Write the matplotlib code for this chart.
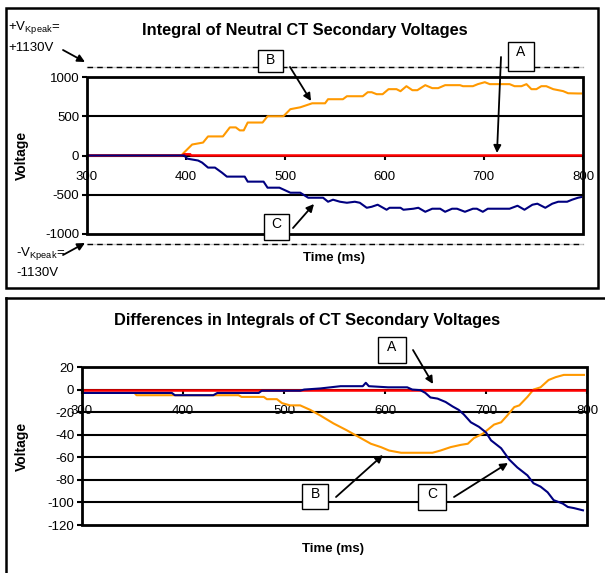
import matplotlib
matplotlib.use("Agg")
import matplotlib.pyplot as plt
from matplotlib.patches import Rectangle, FancyArrowPatch
from matplotlib.lines import Line2D

plt.rcParams['font.family'] = ['Liberation Sans', 'DejaVu Sans']
plt.rcParams['mathtext.fontset'] = 'custom'
plt.rcParams['mathtext.rm'] = 'Liberation Sans'
plt.rcParams['axes.unicode_minus'] = False

W, H = 605, 573

# ---- top chart: integral of neutral CT secondary voltages ----
top_orange_t = [300, 395, 398, 406, 417, 422, 437, 444, 450, 454, 458, 462, 477, 482, 498, 505,
                515, 527, 540, 543, 558, 562, 578, 583, 587, 592, 598, 604, 612, 616, 622, 628,
                633, 641, 648, 654, 661, 676, 679, 689, 694, 701, 706, 713, 726, 731, 738, 743,
                748, 753, 758, 763, 770, 780, 785, 795, 798]
top_orange_v = [0, 0, 40, 140, 165, 243, 243, 358, 358, 320, 320, 420, 420, 500, 500, 590,
                614, 665, 665, 717, 717, 755, 755, 806, 806, 781, 781, 845, 845, 819, 883, 832,
                832, 896, 858, 858, 896, 896, 883, 883, 909, 934, 909, 909, 909, 883, 883, 909,
                845, 845, 883, 883, 845, 820, 793, 790, 790]

top_blue_t = [300, 398, 401, 412, 416, 422, 429, 436, 441, 459, 462, 478, 482, 494, 505, 515,
              523, 538, 543, 548, 555, 562, 570, 575, 582, 587, 593, 602, 605, 616, 619, 629,
              634, 641, 648, 656, 661, 668, 673, 681, 689, 693, 699, 704, 716, 726, 734, 741,
              749, 754, 762, 769, 775, 784, 789, 795, 798]
top_blue_v = [0, 0, -40, -64, -90, -154, -154, -218, -269, -269, -333, -333, -410, -410, -474, -474,
              -538, -538, -589, -563, -589, -602, -589, -602, -666, -653, -627, -691, -666, -666, -691, -678,
              -666, -717, -678, -678, -717, -678, -678, -717, -678, -678, -717, -678, -678, -678, -640, -691,
              -627, -614, -666, -614, -589, -589, -563, -538, -530]

top_red_t = [300, 396, 398, 404, 405, 798]
top_red_v = [0, 0, 15, 15, 0, 0]

vkpeak = 1130
top_yticks = [-1000, -500, 0, 500, 1000]
top_grid = [-500, 500]

# ---- bottom chart: differences in integrals ----
bot_orange_t = [300, 352, 354, 455, 458, 480, 483, 493, 498, 506, 516, 526, 536, 549, 562, 574,
                586, 596, 604, 616, 647, 655, 665, 675, 682, 688, 697, 708, 715, 721, 728, 733,
                741, 747, 754, 762, 769, 777, 797]
bot_orange_v = [-3, -3, -5, -5, -6.5, -6.5, -8.5, -8.5, -12, -14, -14, -18, -23, -30, -36, -42,
                -48, -51, -54, -56, -56, -54, -51, -49, -48, -43, -39, -31, -29, -23, -15.5, -14,
                -6.5, 0, 2, 8.5, 11, 13, 13]

bot_blue_t = [300, 389, 392, 430, 434, 475, 478, 516, 520, 536, 556, 578, 581, 584, 603, 622,
              627, 635, 640, 645, 652, 660, 667, 673, 678, 685, 693, 700, 705, 715, 723, 731,
              741, 747, 754, 761, 767, 776, 781, 787, 796]
bot_blue_v = [-3, -3, -5, -5, -3, -3, -1, -1, 0, 1, 3, 3, 6, 3, 2, 2,
              0, -0.5, -3, -7, -8, -11, -15, -18, -22, -29, -33, -38, -45, -52, -62, -69,
              -76, -83, -86, -91, -98, -101, -104, -105, -107]

bot_red_t = [300, 800]
bot_red_v = [0, 0]

bot_yticks = [-120, -100, -80, -60, -40, -20, 0, 20]
bot_grid = [-100, -80, -60, -40, -20]

xticks = [300, 400, 500, 600, 700, 800]

ORANGE = '#FF9900'
RED = '#FF0000'
NAVY = '#000080'


def fx(px):
    return px / W


def fy(py):
    return 1 - py / H


fig = plt.figure(figsize=(W / 100, H / 100), dpi=100)


def make_axes(l, t, r, b, ylim, yticks, grid, xpad):
    ax = fig.add_axes([fx(l), fy(b), (r - l) / W, (b - t) / H])
    ax.set_xlim(300, 800)
    ax.set_ylim(*ylim)
    for s in ['top', 'right', 'left']:
        ax.spines[s].set_visible(False)
    ax.spines['bottom'].set_position(('data', 0))
    ax.spines['bottom'].set_linewidth(1.5)
    ax.add_patch(Rectangle((0, 0), 1, 1, transform=ax.transAxes, fill=False,
                           lw=2, ec='black', clip_on=False, zorder=6))
    for g in grid:
        ax.axhline(g, color='black', lw=1.5, zorder=1)
    ax.set_xticks(xticks)
    ax.set_yticks(yticks)
    ax.tick_params(axis='x', direction='out', length=3, width=1.5, pad=xpad, labelsize=9.5)
    ax.tick_params(axis='y', direction='out', length=3.5, width=1.5, pad=2, labelsize=9.5)
    ax.set_facecolor('none')
    return ax


# outer frames
fig.add_artist(Rectangle((fx(6), fy(288)), (598 - 6) / W, (288 - 8) / H, transform=fig.transFigure,
                         fill=False, lw=1.8, ec='black'))
fig.add_artist(Line2D([fx(6), fx(605)], [fy(298), fy(298)], transform=fig.transFigure, lw=1.8, color='black'))
fig.add_artist(Line2D([fx(6), fx(6)], [fy(298), fy(573)], transform=fig.transFigure, lw=1.8, color='black'))

# top chart
ax1 = make_axes(87, 77, 583, 234, (-1000, 1000), top_yticks, top_grid, 8.5)
ax1.plot(top_orange_t, top_orange_v, color=ORANGE, lw=1.5, zorder=3)
ax1.plot(top_red_t, top_red_v, color=RED, lw=1.8, zorder=4)
ax1.plot(top_blue_t, top_blue_v, color=NAVY, lw=1.5, zorder=5)
for lvl in (vkpeak, -vkpeak):
    ax1.plot([300, 800], [lvl, lvl], color='#C8C8C8', lw=1, clip_on=False, zorder=2)
    ax1.plot([300, 800], [lvl, lvl], color='black', lw=1, ls=(0, (4, 3)), clip_on=False, zorder=2)
ax1.set_ylabel('Voltage', fontsize=10, fontweight='bold')
ax1.yaxis.set_label_coords((29 - 87) / 496, 0.5)

# bottom chart
ax2 = make_axes(82, 367, 587, 525, (-120, 20), bot_yticks, bot_grid, 8)
ax2.plot(bot_orange_t, bot_orange_v, color=ORANGE, lw=1.5, zorder=3)
ax2.plot(bot_red_t, bot_red_v, color=RED, lw=1.8, zorder=4)
ax2.plot(bot_blue_t, bot_blue_v, color=NAVY, lw=1.5, zorder=5)
ax2.set_ylabel('Voltage', fontsize=10, fontweight='bold')
ax2.yaxis.set_label_coords((29 - 82) / 505, 0.5)

# titles and axis titles
fig.text(fx(305), fy(31), 'Integral of Neutral CT Secondary Voltages', ha='center', va='center',
         fontsize=11.8, fontweight='bold')
fig.text(fx(307), fy(321), 'Differences in Integrals of CT Secondary Voltages', ha='center', va='center',
         fontsize=11.8, fontweight='bold')
fig.text(fx(334), fy(258), 'Time (ms)', ha='center', va='center', fontsize=9.5, fontweight='bold')
fig.text(fx(333), fy(549), 'Time (ms)', ha='center', va='center', fontsize=9.5, fontweight='bold')

# V_Kpeak notes
fig.text(fx(8), fy(28), r'+V$_{\mathrm{Kpeak}}$=', ha='left', va='center', fontsize=9.5)
fig.text(fx(8), fy(48), '+1130V', ha='left', va='center', fontsize=9.5)
fig.text(fx(16), fy(253), r'-V$_{\mathrm{Kpeak}}$=', ha='left', va='center', fontsize=9.5)
fig.text(fx(16), fy(273), '-1130V', ha='left', va='center', fontsize=9.5)


def arrow(x0, y0, x1, y1):
    fig.add_artist(FancyArrowPatch((fx(x0), fy(y0)), (fx(x1), fy(y1)), transform=fig.transFigure,
                                   arrowstyle='-|>', mutation_scale=11, lw=1.3, color='black',
                                   shrinkA=0, shrinkB=0, zorder=10))


def label_box(l, t, r, b, letter):
    fig.add_artist(Rectangle((fx(l), fy(b)), (r - l) / W, (b - t) / H, transform=fig.transFigure,
                             fc='white', ec='black', lw=1, zorder=9))
    fig.text(fx((l + r) / 2), fy(t + 10), letter, ha='center', va='center', fontsize=10, zorder=11)


arrow(63, 50, 85, 62)
arrow(63, 255, 85, 243)

label_box(508, 42, 534, 71, 'A')
arrow(501, 57, 497, 153)
label_box(258, 50, 283, 72, 'B')
arrow(290, 67, 311, 101)
label_box(264, 214, 289, 240, 'C')
arrow(293, 228, 314, 204)

label_box(378, 337, 406, 363, 'A')
arrow(413, 350, 433, 384)
label_box(302, 484, 328, 509, 'B')
arrow(336, 497, 383, 455)
label_box(418, 484, 446, 510, 'C')
arrow(454, 497, 508, 463)

fig.savefig('out.png', dpi=100)
